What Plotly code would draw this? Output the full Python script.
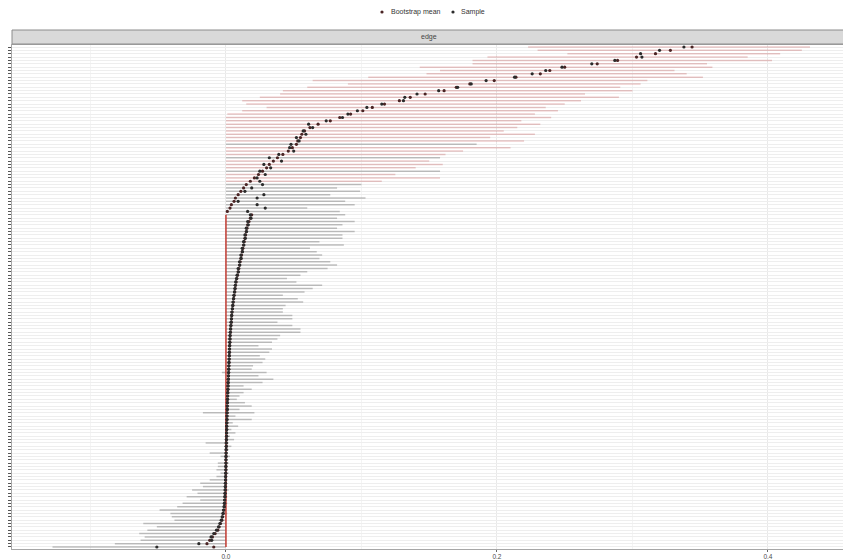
import plotly.graph_objects as go

# ---- data (rows listed top to bottom) ----
boot_mean = [
    0.344, 0.328, 0.317, 0.303, 0.289, 0.274, 0.250, 0.239, 0.232, 0.214,
    0.198, 0.180, 0.170, 0.161, 0.147, 0.136, 0.128, 0.117, 0.108, 0.101,
    0.092, 0.084, 0.077, 0.068, 0.062, 0.058, 0.056, 0.055, 0.053, 0.052,
    0.049, 0.046, 0.042, 0.038, 0.035, 0.032, 0.030, 0.027, 0.024, 0.021,
    0.018, 0.015, 0.013, 0.011, 0.009, 0.007, 0.006, 0.004, 0.003, 0.001,
    0.019, 0.018, 0.017, 0.016, 0.0155, 0.015, 0.0145, 0.014, 0.0135, 0.013,
    0.0125, 0.012, 0.0115, 0.011, 0.0105, 0.010, 0.0095, 0.009, 0.0085, 0.008,
    0.0075, 0.007, 0.0068, 0.0065, 0.006, 0.0057, 0.0054, 0.0051, 0.0048, 0.0045,
    0.0043, 0.0041, 0.0039, 0.0037, 0.0035, 0.0033, 0.0031, 0.0030, 0.0029, 0.0028,
    0.0027, 0.0026, 0.0025, 0.0024, 0.0023, 0.0022, 0.0021, 0.0020, 0.0019, 0.0018,
    0.0017, 0.0016, 0.0015, 0.0014, 0.0013, 0.0012, 0.0011, 0.0010, 0.0010, 0.0009,
    0.0008, 0.0008, 0.0007, 0.0006, 0.0006, 0.0005, 0.0005, 0.0004, 0.0003, 0.0003,
    0.0002, 0.0001, 0.0001, 0.0, 0.0, 0.0, 0.0, -0.0001, -0.0002, -0.0002,
    -0.0003, -0.0004, -0.0005, -0.0006, -0.0007, -0.0008, -0.0010, -0.0012, -0.0015, -0.0020,
    -0.0025, -0.0030, -0.0040, -0.0050, -0.0060, -0.0080, -0.0100, -0.0120, -0.0140, -0.0090,
]

sample = [
    0.338, 0.320, 0.306, 0.307, 0.287, 0.270, 0.248, 0.236, 0.226, 0.213,
    0.192, 0.181, 0.171, 0.157, 0.141, 0.132, 0.131, 0.115, 0.104, 0.097,
    0.090, 0.086, 0.074, 0.061, 0.064, 0.057, 0.059, 0.052, 0.054, 0.048,
    0.047, 0.050, 0.039, 0.032, 0.041, 0.028, 0.033, 0.025, 0.029, 0.023,
    0.025, 0.027, 0.019, 0.014, 0.028, 0.023, 0.009, 0.023, 0.029, 0.016,
    0.018, 0.0185, 0.016, 0.0165, 0.015, 0.0152, 0.014, 0.0143, 0.013, 0.0132,
    0.012, 0.0122, 0.011, 0.0112, 0.010, 0.0102, 0.009, 0.0092, 0.0082, 0.0078,
    0.0072, 0.0069, 0.0066, 0.0063, 0.0059, 0.0056, 0.0052, 0.0050, 0.0047, 0.0044,
    0.0042, 0.0040, 0.0038, 0.0036, 0.0034, 0.0032, 0.0030, 0.0029, 0.0028, 0.0027,
    0.0026, 0.0025, 0.0024, 0.0023, 0.0022, 0.0021, 0.0020, 0.0019, 0.0018, 0.0017,
    0.0016, 0.0015, 0.0014, 0.0013, 0.0012, 0.0011, 0.0010, 0.0009, 0.0009, 0.0008,
    0.0007, 0.0007, 0.0006, 0.0005, 0.0005, 0.0004, 0.0004, 0.0003, 0.0002, 0.0002,
    0.0001, 0.0001, 0.0, 0.0, 0.0, -0.0001, -0.0001, -0.0002, -0.0003, -0.0003,
    -0.0004, -0.0005, -0.0006, -0.0007, -0.0008, -0.0010, -0.0012, -0.0014, -0.0018, -0.0022,
    -0.0028, -0.0035, -0.0045, -0.0055, -0.0070, -0.0090, -0.0110, -0.0105, -0.0200, -0.0510,
]

ci_lower = [
    0.223, 0.230, 0.252, 0.193, 0.182, 0.182, 0.143, 0.158, 0.148, 0.105,
    0.064, 0.090, 0.060, 0.042, 0.040, 0.025, 0.012, 0.015, 0.030, 0.012,
    0.001, 0, 0, 0, 0, 0, 0, 0, 0, 0,
    0, 0, 0, 0, 0, 0, 0, 0, 0, 0,
    0, 0, 0, 0, 0, 0, 0, 0, 0, 0,
    0, 0, 0, 0, 0, 0, 0, 0, 0, 0,
    0, 0, 0, 0, 0, 0, 0, 0, 0, 0,
    0, 0, 0, 0, 0, 0, 0, 0, 0, 0,
    0, 0, 0, 0, 0, 0, 0, 0, 0, 0,
    0, 0, 0, 0, 0, 0, 0, -0.003, 0, 0,
    0, 0, 0, 0, 0, 0, 0, 0, 0, -0.017,
    0, 0, 0, 0, 0, 0, 0, 0, -0.015, 0,
    0, -0.012, -0.004, 0, -0.006, -0.006, -0.007, -0.004, -0.007, -0.012,
    -0.019, -0.017, -0.025, -0.021, -0.029, -0.019, -0.032, -0.036, -0.049, -0.041,
    -0.040, -0.038, -0.061, -0.051, -0.058, -0.064, -0.060, -0.063, -0.082, -0.128,
]

ci_upper = [
    0.431, 0.425, 0.409, 0.385, 0.403, 0.355, 0.359, 0.331, 0.340, 0.352,
    0.311, 0.306, 0.291, 0.300, 0.265, 0.290, 0.262, 0.250, 0.236, 0.245,
    0.228, 0.240, 0.218, 0.232, 0.215, 0.205, 0.228, 0.195, 0.220, 0.185,
    0.210, 0.175, 0.162, 0.158, 0.150, 0.160, 0.140, 0.158, 0.125, 0.158,
    0.115, 0.100, 0.082, 0.099, 0.077, 0.103, 0.088, 0.095, 0.060, 0.084,
    0.088, 0.082, 0.095, 0.086, 0.082, 0.095, 0.086, 0.086, 0.069, 0.087,
    0.062, 0.067, 0.071, 0.069, 0.077, 0.082, 0.075, 0.060, 0.055, 0.045,
    0.052, 0.071, 0.064, 0.058, 0.042, 0.053, 0.057, 0.044, 0.042, 0.042,
    0.049, 0.049, 0.038, 0.049, 0.055, 0.055, 0.040, 0.038, 0.034, 0.024,
    0.034, 0.032, 0.025, 0.029, 0.027, 0.020, 0.019, 0.030, 0.024, 0.035,
    0.027, 0.013, 0.019, 0.013, 0.010, 0.008, 0.014, 0.019, 0.010, 0.021,
    0.007, 0.019, 0.005, 0.009, 0.004, 0.007, 0.003, 0.006, 0.002, 0.004,
    0.002, 0.001, 0.003, 0.001, 0.002, 0.001, 0.000, 0.002, 0.001, 0.001,
    0.000, 0.001, 0.002, 0.000, 0.001, 0.000, 0.001, 0.000, 0.000, 0.001,
    0, 0, 0, 0, 0, 0, 0, 0, 0, 0,
]

# interval class per row: "pos" = red interval, "mixed" = grey interval,
# "null" = grey interval with the bootstrap interval collapsed at zero
group = (["pos"] * 29 + ["mixed"] + ["pos"] * 3 + ["mixed"] + ["pos"] * 3 + ["mixed"]
         + ["pos"] * 3 + ["mixed"] * 9 + ["null"] * 100)

x_ticks = [0.0, 0.2, 0.4]
x_tick_labels = ["0.0", "0.2", "0.4"]
x_minor = [-0.1, 0.1, 0.3]
panel_label = "edge"
series_names = ["Bootstrap mean", "Sample"]
series_colors = ["#4a2424", "#2b2b2b"]

N = len(boot_mean)
rows = [N - 1 - i for i in range(N)]

# figure geometry: the page body adds an 8px offset, so the figure is drawn
# 8px smaller and all target pixel positions are shifted by that offset
OFF = 8
W, H = 851 - OFF, 560 - OFF
ML, MR, MT, MB = 12 - OFF, 5, 45 - OFF, 11
PW, PH = W - ML - MR, H - MT - MB


def px_x(p):
    return (p - OFF - ML) / PW


def px_y(p):
    return (H - MB - (p - OFF)) / PH


def segments(kind):
    xs, ys = [], []
    for i in range(N):
        if group[i] in kind:
            xs += [ci_lower[i], ci_upper[i], None]
            ys += [rows[i], rows[i], None]
    return xs, ys


fig = go.Figure()

gx, gy = segments(("mixed", "null"))
fig.add_trace(go.Scatter(x=gx, y=gy, mode="lines", showlegend=False, hoverinfo="skip",
                         line=dict(color="rgba(127,127,127,0.48)", width=1.5)))
rx, ry = segments(("pos",))
fig.add_trace(go.Scatter(x=rx, y=ry, mode="lines", showlegend=False, hoverinfo="skip",
                         line=dict(color="rgba(178,34,34,0.24)", width=1.5)))

zero_rows = [rows[i] for i in range(N) if group[i] == "null"]
fig.add_trace(go.Scatter(x=[0.0] * len(zero_rows), y=zero_rows, mode="lines",
                         showlegend=False, hoverinfo="skip",
                         line=dict(color="#c23b32", width=1.5)))

fig.add_trace(go.Scatter(x=boot_mean, y=rows, mode="markers", name=series_names[0],
                         showlegend=False,
                         marker=dict(color=series_colors[0], size=3.2)))
fig.add_trace(go.Scatter(x=sample, y=rows, mode="markers", name=series_names[1],
                         showlegend=False,
                         marker=dict(color=series_colors[1], size=3.2)))

fig.update_layout(
    width=W, height=H,
    margin=dict(l=ML, r=MR, t=MT, b=MB, autoexpand=False),
    plot_bgcolor="white", paper_bgcolor="white",
    font=dict(family="Liberation Sans, Arial, sans-serif", color="#333333"),
    showlegend=False,
)

fig.update_xaxes(
    range=[-0.1579, 0.4576], tickvals=x_ticks, ticktext=x_tick_labels,
    ticks="outside", ticklen=2, tickcolor="#666666", tickwidth=0.8,
    tickfont=dict(size=6.5, color="#4d4d4d"), ticklabelstandoff=-1,
    showgrid=True, gridcolor="#e9e9e9", gridwidth=0.8,
    minor=dict(tickvals=x_minor, showgrid=True, gridcolor="#f4f4f4", gridwidth=0.6, ticks=""),
    zeroline=False, showline=True, linecolor="#a6a6a6", linewidth=1, mirror=True,
    automargin=False,
)
fig.update_yaxes(
    range=[-0.6, N - 0.4], tickvals=list(range(N)), showticklabels=False,
    ticks="outside", ticklen=3, tickcolor="#555555", tickwidth=0.6,
    showgrid=True, gridcolor="#eeeeee", gridwidth=0.5,
    zeroline=False, showline=True, linecolor="#a6a6a6", linewidth=1, mirror=True,
    automargin=False,
)

# facet strip
fig.add_shape(type="rect", xref="paper", yref="paper", x0=0, x1=1,
              y0=px_y(44), y1=px_y(30),
              fillcolor="#d9d9d9", line=dict(color="#8c8c8c", width=1), layer="above")
fig.add_annotation(text=panel_label, xref="paper", yref="paper", x=0.5, y=px_y(37),
                   showarrow=False, font=dict(size=7, color="#444444"),
                   xanchor="center", yanchor="middle")

# legend (top centre)
legend_pos = [(382, 389), (453, 459)]  # (dot px, text start px)
for name, col, (dot, txt) in zip(series_names, series_colors, legend_pos):
    r = 1.6
    fig.add_shape(type="circle", xref="paper", yref="paper",
                  x0=px_x(dot - r), x1=px_x(dot + r), y0=px_y(12 + r), y1=px_y(12 - r),
                  fillcolor=col, line=dict(width=0))
    fig.add_annotation(text=name, xref="paper", yref="paper", x=px_x(txt), y=px_y(12),
                       showarrow=False, font=dict(size=7, color="#333333"),
                       xanchor="left", yanchor="middle")

fig.write_html("out.html")
